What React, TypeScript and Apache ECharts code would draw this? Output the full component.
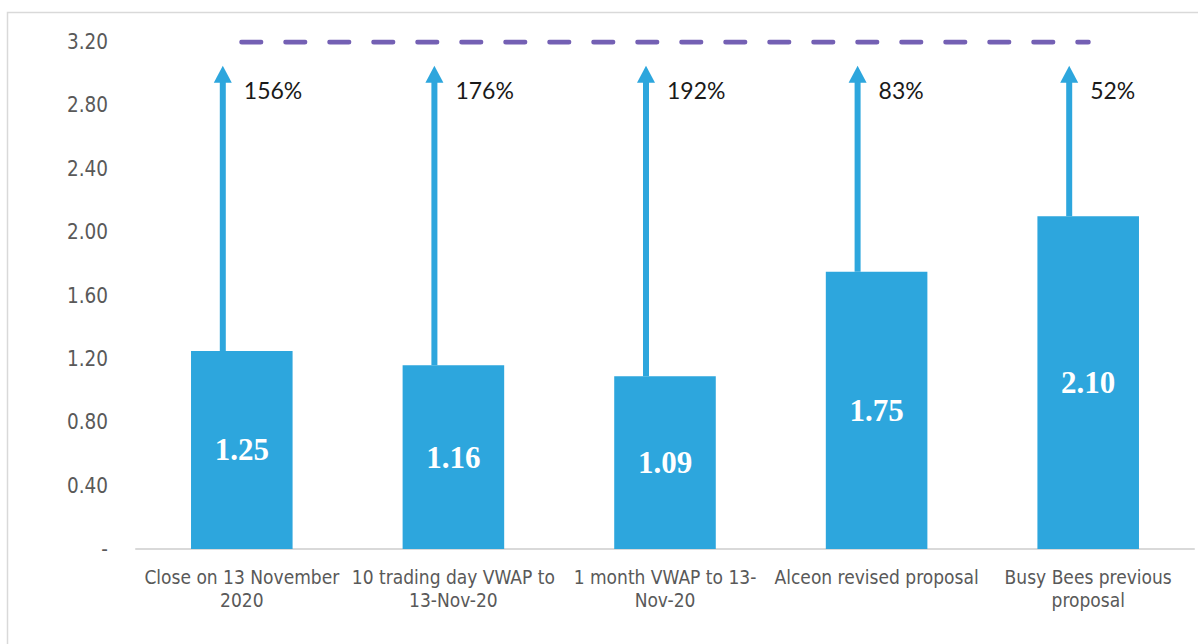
import React, { useEffect, useRef } from "react";
import * as echarts from "echarts";

const categories = [
  "Close on 13 November\n2020",
  "10 trading day VWAP to\n13-Nov-20",
  "1 month VWAP to 13-\nNov-20",
  "Alceon revised proposal",
  "Busy Bees previous\nproposal",
];
const prices = [1.25, 1.16, 1.09, 1.75, 2.1];
const premiums = ["156%", "176%", "192%", "83%", "52%"];
const offerPrice = 3.2;
const arrowTip = 3.05;
const yTicks = { min: 0, max: 3.2, interval: 0.4 };

export default function App() {
  const ref = useRef<HTMLDivElement>(null);
  useEffect(() => {
    document.body.style.margin = "0";
    const chart = echarts.init(ref.current!, null, { renderer: "svg" });
    const blue = "#2DA6DD";
    chart.setOption({
      animation: false,
      backgroundColor: "#fff",
      graphic: [
        {
          type: "rect",
          shape: { x: 7.5, y: 12.5, width: 1400, height: 800 },
          style: { fill: "none", stroke: "#d9d9d9", lineWidth: 1.5 },
          silent: true,
        },
      ],
      grid: { left: 136, right: 4, top: 42, bottom: 95 },
      xAxis: {
        type: "category",
        data: categories,
        axisLine: { lineStyle: { color: "#d9d9d9", width: 2 } },
        axisTick: { show: false },
        axisLabel: {
          color: "#595959",
          fontFamily: "DejaVu Sans Condensed",
          fontSize: 19,
          lineHeight: 23,
          margin: 16,
          interval: 0,
        },
      },
      yAxis: {
        type: "value",
        min: yTicks.min,
        max: yTicks.max,
        interval: yTicks.interval,
        axisLine: { show: false },
        axisTick: { show: false },
        splitLine: { show: false },
        axisLabel: {
          color: "#595959",
          fontFamily: "DejaVu Sans Condensed",
          fontSize: 20.5,
          margin: 28,
          formatter: (v: number) => (v === 0 ? "-" : v.toFixed(2)),
        },
      },
      series: [
        {
          type: "bar",
          data: prices,
          barWidth: "48%",
          itemStyle: { color: blue },
          label: {
            show: true,
            position: "inside",
            color: "#fff",
            fontFamily: "Liberation Serif",
            fontWeight: "bold",
            fontSize: 31,
            formatter: (p: any) => p.value.toFixed(2),
          },
        },
        {
          type: "line",
          data: categories.map(() => offerPrice),
          symbol: "none",
          lineStyle: {
            color: "#7460B4",
            width: 5,
            type: [19, 25],
            cap: "round",
          },
          z: 5,
        },
        {
          type: "custom",
          data: prices.map((p, i) => [i, p, arrowTip]),
          renderItem: (params: any, api: any) => {
            const s = api.coord([api.value(0), api.value(1)]);
            const e = api.coord([api.value(0), api.value(2)]);
            const x = s[0] - 19;
            return {
              type: "group",
              children: [
                {
                  type: "line",
                  shape: { x1: x, y1: s[1], x2: x, y2: e[1] + 12 },
                  style: { stroke: blue, lineWidth: 6 },
                },
                {
                  type: "polygon",
                  shape: {
                    points: [
                      [x - 9, e[1] + 17],
                      [x + 9, e[1] + 17],
                      [x, e[1]],
                    ],
                  },
                  style: { fill: blue },
                },
                {
                  type: "text",
                  style: {
                    text: premiums[params.dataIndex],
                    x: x + 21,
                    y: e[1] + 24,
                    fill: "#1a1a1a",
                    fontFamily: "Lato",
                    fontSize: 23,
                    align: "left",
                    verticalAlign: "middle",
                  },
                },
              ],
            };
          },
          z: 4,
        },
      ],
    });
    return () => chart.dispose();
  }, []);
  return <div ref={ref} style={{ width: 1198, height: 644 }} />;
}
